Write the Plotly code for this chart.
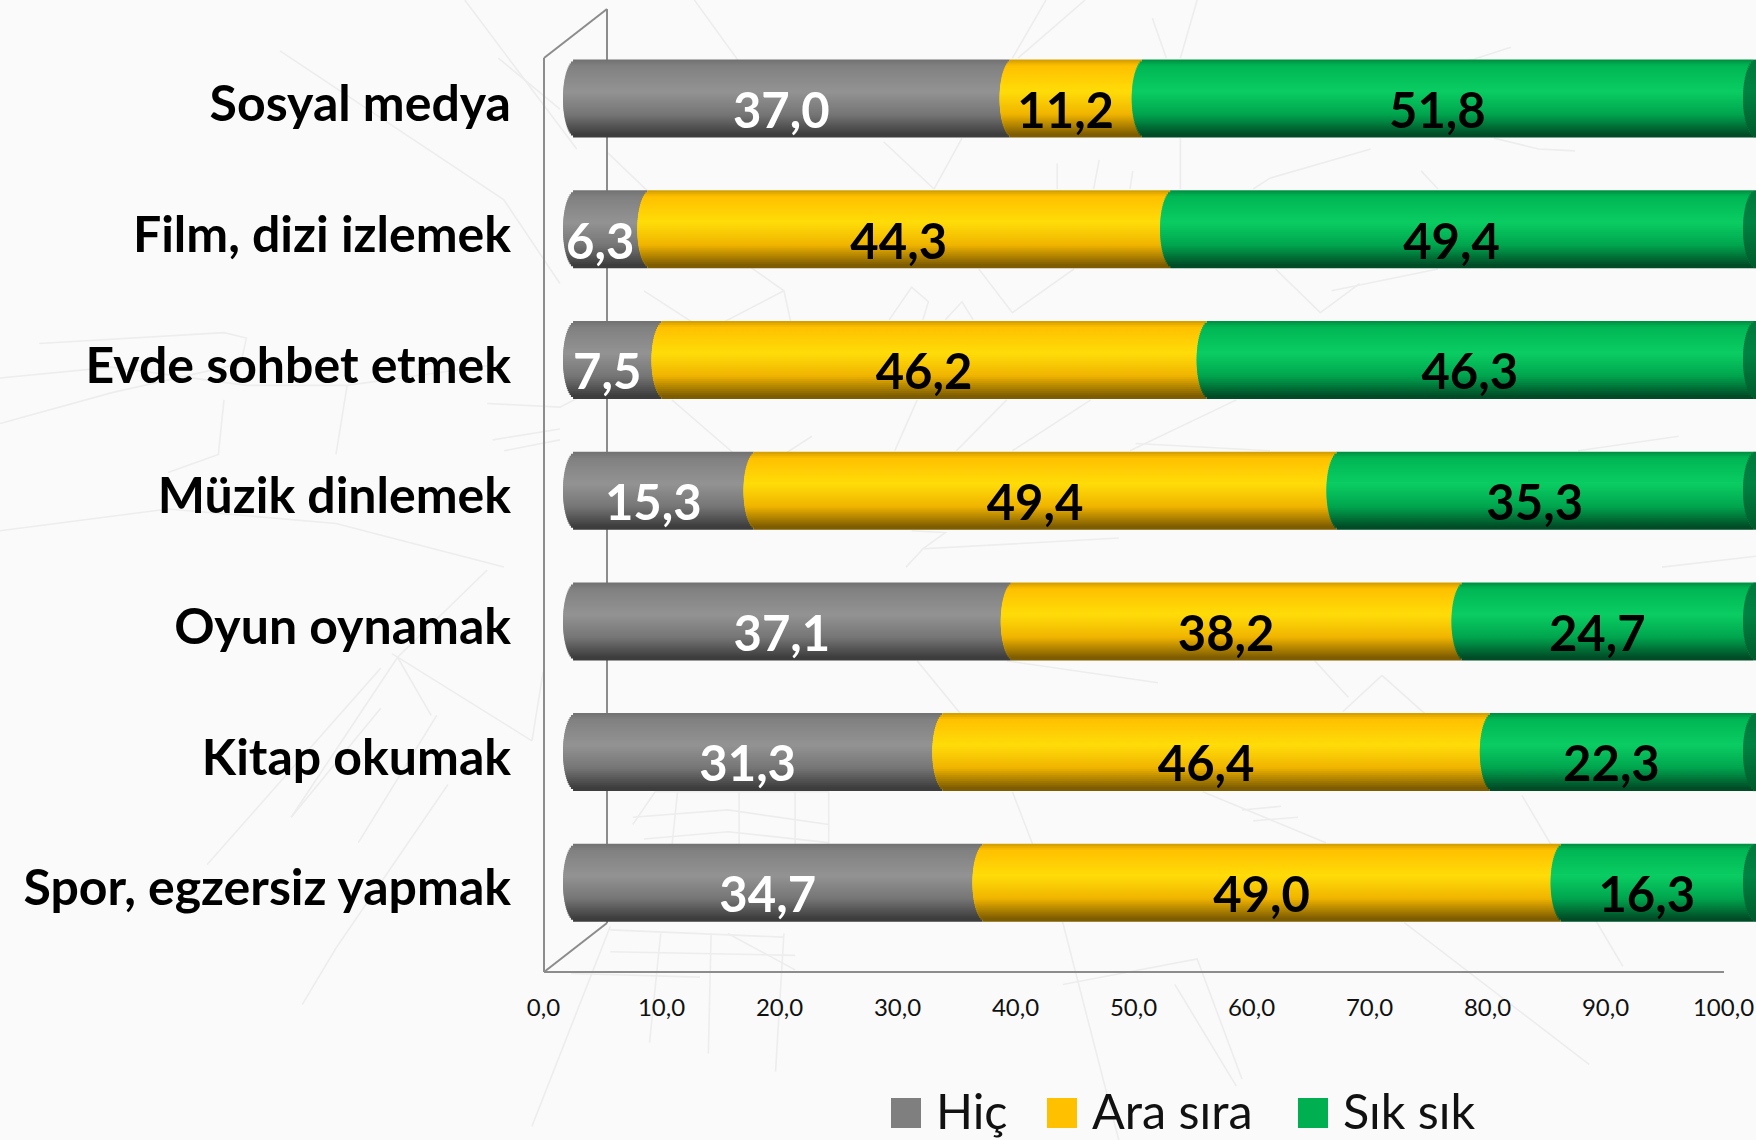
import plotly.graph_objects as go
import math

W, H = 1756, 1140

categories = ["Sosyal medya", "Film, dizi izlemek", "Evde sohbet etmek", "Müzik dinlemek",
              "Oyun oynamak", "Kitap okumak", "Spor, egzersiz yapmak"]
hic = [37.0, 6.3, 7.5, 15.3, 37.1, 31.3, 34.7]
ara_sira = [11.2, 44.3, 46.2, 49.4, 38.2, 46.4, 49.0]
sik_sik = [51.8, 49.4, 46.3, 35.3, 24.7, 22.3, 16.3]
series_names = ["Hiç", "Ara sıra", "Sık sık"]
series_values = [hic, ara_sira, sik_sik]
legend_colors = ["#7F7F7F", "#FFC000", "#00B050"]
label_colors = ["white", "black", "black"]
x_ticks = [0, 10, 20, 30, 40, 50, 60, 70, 80, 90, 100]

# gradient stops: (position top->bottom, rgb)
gradients = [
    [(0, (112, 112, 112)), (0.08, (128, 128, 128)), (0.42, (147, 147, 147)), (0.72, (118, 118, 118)), (1, (58, 58, 58))],
    [(0, (205, 155, 0)), (0.08, (255, 192, 0)), (0.42, (255, 220, 8)), (0.72, (240, 180, 0)), (1, (120, 88, 0))],
    [(0, (0, 140, 64)), (0.08, (0, 182, 84)), (0.42, (10, 205, 98)), (0.72, (0, 165, 78)), (1, (0, 72, 36))],
]
cap_gradient = [(0, (0, 120, 60)), (0.42, (0, 130, 66)), (1, (0, 90, 44))]


def grad(stops, t):
    for (a, ca), (b, cb) in zip(stops, stops[1:]):
        if t <= b:
            f = (t - a) / (b - a)
            return "rgb(%d,%d,%d)" % tuple(round(p + (q - p) * f) for p, q in zip(ca, cb))
    return "rgb(%d,%d,%d)" % stops[-1][1]


# layout geometry in pixels
PX_UNIT = 11.8
AX_X0, AX_Y = 543.5, 972
BAR_X0 = 576
ROW0, ROW_STEP = 98.6, 130.7
BAR_H = 76
CAP = 13 / PX_UNIT
STRIPS = 38

yrange = [(H - ROW0) / ROW_STEP, -ROW0 / ROW_STEP]
bar_h_units = BAR_H / ROW_STEP
strip_w = bar_h_units / STRIPS * 2

fig = go.Figure()

rows = range(len(categories))
strips = [(k + 0.5) / STRIPS for k in range(STRIPS)]
bulge = [CAP * math.sqrt(max(0, 1 - (2 * t - 1) ** 2)) for t in strips]

cum = [[0.0] * len(categories)]
for vals in series_values:
    cum.append([c + v for c, v in zip(cum[-1], vals)])

# invisible carrier so the visible value axis is drawn
fig.add_trace(go.Scatter(x=[x_ticks[0], x_ticks[-1]], y=[0, 0], mode="lines", line=dict(width=0),
                         xaxis="x", yaxis="y", showlegend=False, hoverinfo="skip"))

for s, vals in enumerate(series_values):
    ys, bases, xs, cols = [], [], [], []
    for r in rows:
        for t, b in zip(strips, bulge):
            ys.append(r + (t - 0.5) * bar_h_units)
            bases.append(cum[s][r] - b)
            xs.append(vals[r])
            cols.append(grad(gradients[s], t))
    fig.add_trace(go.Bar(
        y=ys, x=xs, base=bases, orientation="h", width=strip_w,
        marker=dict(color=cols, line=dict(width=0)), xaxis="x2", yaxis="y",
        cliponaxis=False, showlegend=False, hoverinfo="skip", name=series_names[s]))

# right-hand end cap
ys, bases, xs, cols = [], [], [], []
for r in rows:
    for t, b in zip(strips, bulge):
        ys.append(r + (t - 0.5) * bar_h_units)
        bases.append(cum[3][r] - b)
        xs.append(2 * b)
        cols.append(grad(cap_gradient, t))
fig.add_trace(go.Bar(y=ys, x=xs, base=bases, orientation="h", width=strip_w,
                     marker=dict(color=cols, line=dict(width=0)), xaxis="x2", yaxis="y",
                     cliponaxis=False, showlegend=False, hoverinfo="skip"))

# value labels
LABEL_DY = 17 / ROW_STEP
for s, vals in enumerate(series_values):
    fig.add_trace(go.Scatter(
        x=[cum[s][r] + vals[r] / 2 - CAP for r in rows],
        y=[r + LABEL_DY for r in rows],
        text=[f"{v:.1f}".replace(".", ",") for v in vals],
        mode="text", textposition="middle center", xaxis="x2", yaxis="y",
        textfont=dict(family="Lato", size=49, color=label_colors[s], weight="bold"),
        cliponaxis=False, showlegend=False, hoverinfo="skip"))


def px(x):
    return x / W


def py(y):
    return 1 - y / H


# faint background sketch: strokes given per quarter of the page as (offset, stroke points)
SX, SY = 878 / 1568, 570 / 1568
sketch = [
    ((0, 0), [[(830, 0), (1030, 410)], [(890, 160), (1000, 300)], [(500, 140), (900, 550), (1000, 780)],
              [(70, 945), (400, 915), (440, 930), (430, 1000), (200, 1080), (0, 1165)],
              [(0, 1040), (200, 1010), (440, 1060), (620, 1060), (900, 1000)], [(620, 1060), (600, 1250)],
              [(400, 1100), (390, 1250), (300, 1300)], [(0, 1460), (300, 1400), (600, 1440), (900, 1560)],
              [(870, 1110), (1000, 1120), (1400, 800)], [(1240, 0), (1400, 340)],
              [(1085, 420), (1180, 560), (1400, 800), (1440, 1080)], [(880, 1210), (1000, 1180)],
              [(900, 1240), (1000, 1210)], [(1150, 800), (1250, 900)], [(1200, 1100), (1350, 1300), (1450, 1200)]]),
    ((878, 0), [[(370, 0), (250, 160)], [(300, 0), (240, 160)], [(570, 0), (540, 160)], [(490, 50), (515, 160)],
                [(540, 380), (540, 520)], [(320, 450), (320, 520)], [(395, 440), (385, 520)], [(455, 470), (450, 520)],
                [(10, 390), (100, 520)], [(150, 380), (100, 520)], [(880, 410), (700, 490), (670, 520)],
                [(1130, 130), (1050, 170)], [(1100, 380), (1180, 410), (1245, 415)], [(970, 470), (1000, 520)],
                [(180, 740), (240, 860), (350, 740)], [(710, 740), (790, 860), (860, 780)], [(810, 800), (1000, 740)],
                [(20, 880), (60, 790), (90, 830), (80, 880)], [(120, 880), (150, 830), (170, 880)],
                [(30, 1240), (70, 1100)], [(140, 1240), (230, 1100)], [(240, 1240), (380, 1100)],
                [(450, 1240), (640, 1100)], [(460, 1220), (700, 1240)], [(1250, 1240), (1430, 1200)],
                [(60, 1460), (120, 1465), (80, 1510), (430, 1480)], [(50, 1560), (80, 1510)],
                [(1400, 1560), (1568, 1530)]]),
    ((0, 570), [[(870, 0), (710, 240), (520, 680)], [(680, 270), (370, 810)], [(710, 240), (770, 400)],
                [(700, 230), (950, 470)], [(970, 280), (950, 470)], [(680, 380), (520, 680)], [(780, 400), (640, 750)],
                [(800, 590), (600, 1040), (540, 1195)], [(1130, 700), (1170, 610), (1480, 610), (1480, 760)],
                [(1130, 680), (1300, 660), (1480, 700)], [(1150, 740), (1300, 720), (1480, 750)],
                [(1210, 610), (1200, 760)], [(1320, 610), (1320, 760)], [(1420, 610), (1420, 760)],
                [(1090, 980), (950, 1530)], [(1180, 1000), (1160, 1300)], [(1270, 1000), (1265, 1330)],
                [(1400, 1000), (1385, 1380)], [(1090, 990), (1400, 1010)], [(1090, 1050), (1420, 1060)],
                [(1020, 1110), (1250, 1120)], [(1300, 1000), (1420, 1100)]]),
    ((878, 570), [[(70, 250), (150, 400)], [(240, 610), (330, 970), (430, 1568)], [(230, 250), (500, 310)],
                  [(900, 290), (830, 390)], [(900, 290), (980, 400)], [(580, 610), (800, 750)],
                  [(650, 660), (720, 650)], [(670, 690), (750, 680)], [(1150, 620), (1330, 1090)],
                  [(940, 970), (1270, 1360)], [(330, 1140), (570, 1070), (650, 1400)],
                  [(530, 1140), (640, 1420)], [(780, 250), (840, 350)]]),
]

WALL = "#8c8c8c"
shapes = []
for (ox, oy), strokes in sketch:
    for st in strokes:
        path = "M " + " L ".join(f"{px(ox + a * SX):.5f},{py(oy + b * SY):.5f}" for a, b in st)
        shapes.append(dict(type="path", xref="paper", yref="paper", layer="below", path=path,
                           line=dict(color="#ededed", width=1.6)))

for x0, y0, x1, y1 in [(544, 972, 544, 58), (544, 58, 607, 9), (607, 9, 607, 923), (607, 923, 544, 972)]:
    shapes.append(dict(type="line", xref="paper", yref="paper", layer="below",
                       x0=px(x0), y0=py(y0), x1=px(x1), y1=py(y1), line=dict(color=WALL, width=2)))

annotations = []
legend_x = [891, 1047, 1298]
for name, col, lx in zip(series_names, legend_colors, legend_x):
    shapes.append(dict(type="rect", xref="paper", yref="paper", x0=px(lx), x1=px(lx + 30),
                       y0=py(1128), y1=py(1098), fillcolor=col, line=dict(width=0)))
    annotations.append(dict(xref="paper", yref="paper", x=px(lx + 43), y=py(1110), text=name, showarrow=False,
                            xanchor="left", yanchor="middle",
                            font=dict(family="Lato", size=48.5, color="#111111")))

fig.update_layout(
    width=W, height=H, margin=dict(l=0, r=0, t=0, b=0, pad=0), autosize=False,
    paper_bgcolor="#FAFAFA", plot_bgcolor="rgba(0,0,0,0)", barmode="overlay",
    separators=", ", showlegend=False, shapes=shapes, annotations=annotations,
    xaxis=dict(domain=[px(AX_X0), px(AX_X0 + 100 * PX_UNIT)], range=[0, 100], tickvals=x_ticks,
               tickformat=".1f", anchor="free", position=py(AX_Y), showline=True, linecolor=WALL, linewidth=2,
               ticks="outside", ticklen=14, tickcolor="rgba(0,0,0,0)", showgrid=False, zeroline=False,
               automargin=False, tickfont=dict(family="Lato", size=24, color="#111111")),
    xaxis2=dict(domain=[0, 1], range=[-BAR_X0 / PX_UNIT, (W - BAR_X0) / PX_UNIT], visible=False, anchor="y",
                automargin=False),
    yaxis=dict(domain=[0, 1], range=yrange, tickvals=[r + 5 / ROW_STEP for r in rows], ticktext=categories,
               anchor="free", position=px(511), side="left", showline=False, showgrid=False, zeroline=False,
               automargin=False, ticks="", tickfont=dict(family="Lato", size=50, color="black", weight="bold")),
)

fig.write_html("out.html", config=dict(displayModeBar=False),
               post_script="document.body.style.margin='0';document.body.style.overflow='hidden';")
